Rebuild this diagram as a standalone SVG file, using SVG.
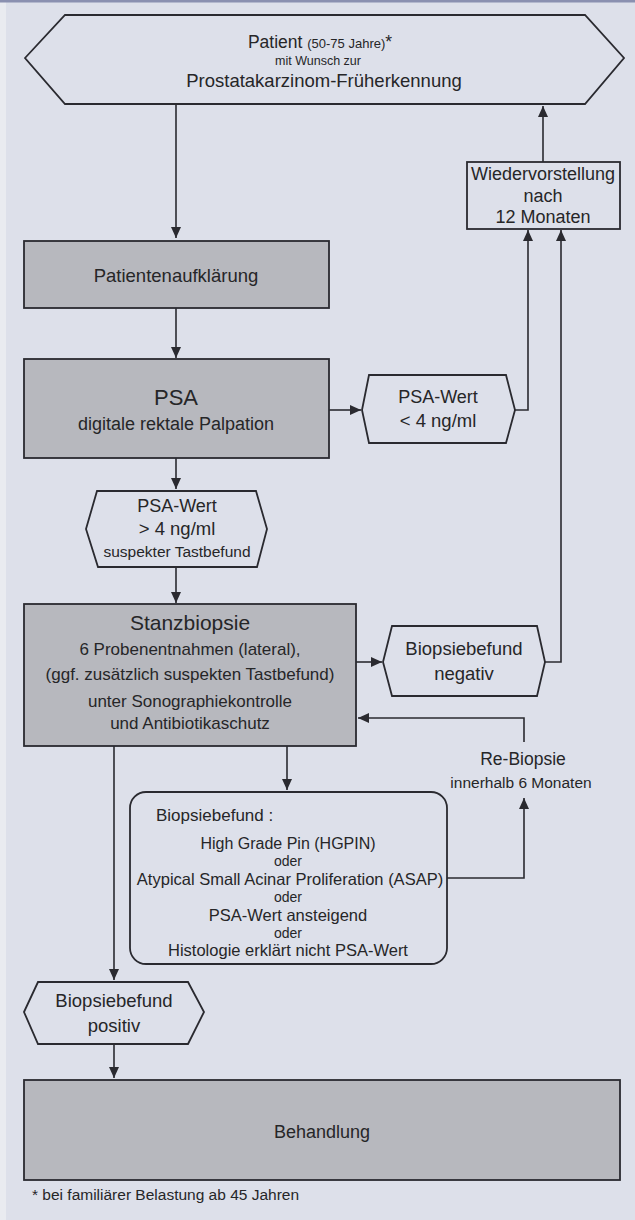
<svg xmlns="http://www.w3.org/2000/svg" width="635" height="1220" viewBox="0 0 635 1220">
<defs>
<style>
.t{font-family:"Liberation Sans",Arial,sans-serif;fill:#262628;text-anchor:middle}
.l{text-anchor:start}
.box{stroke:#2a2a30;stroke-width:1.8}
.g{fill:#b7b8be}
.w{fill:#dde0ea}
.c{fill:none;stroke:#2a2a30;stroke-width:1.6}
.a{marker-end:url(#ah)}
</style>
<marker id="ah" markerUnits="userSpaceOnUse" markerWidth="12" markerHeight="12" refX="11" refY="5" orient="auto">
<path d="M0,0 L11,5 L0,10 z" fill="#2a2a30"/>
</marker>
</defs>
<rect x="0" y="0" width="635" height="1220" fill="#dde0ea"/>
<rect x="0" y="0" width="6" height="1220" fill="#e9ebf0"/>
<rect x="0" y="0" width="635" height="2.5" fill="#8a90b0"/>

<g id="connectors">
<path class="c a" d="M176 104 V238"/>
<path class="c a" d="M176 308 V358"/>
<path class="c a" d="M176 458 V489"/>
<path class="c a" d="M176 567 V603"/>
<path class="c a" d="M329 410 H361"/>
<path class="c a" d="M515 410 H528 V230"/>
<path class="c a" d="M356 662 H382"/>
<path class="c a" d="M545 662 H561 V230"/>
<path class="c a" d="M543 162 V106"/>
<path class="c a" d="M287 746 V790"/>
<path class="c a" d="M447 878 H524 V798"/>
<path class="c a" d="M524 742 V718 H358"/>
<path class="c a" d="M114 746 V980"/>
<path class="c a" d="M114 1044 V1078"/>
</g>

<g id="patient">
<polygon class="box w" points="25,58 65,15 585,15 624,58 585,104 65,104"/>
<text class="t" x="320" y="48"><tspan font-size="17.5">Patient </tspan><tspan font-size="13">(50-75 Jahre)</tspan><tspan font-size="17.5">*</tspan></text>
<text class="t" x="318" y="65" font-size="12.5">mit Wunsch zur</text>
<text class="t" x="324" y="87" font-size="18.5">Prostatakarzinom-Früherkennung</text>
</g>

<g id="wiedervorstellung">
<rect class="box w" x="467" y="162" width="153" height="67"/>
<text class="t" x="543" y="180" font-size="18">Wiedervorstellung</text>
<text class="t" x="543" y="202" font-size="18">nach</text>
<text class="t" x="543" y="223" font-size="18">12 Monaten</text>
</g>

<g id="aufklaerung">
<rect class="box g" x="24" y="241" width="305" height="67"/>
<text class="t" x="176" y="282" font-size="18.5">Patientenaufklärung</text>
</g>

<g id="psa">
<rect class="box g" x="24" y="359" width="305" height="99"/>
<text class="t" x="176" y="405" font-size="22">PSA</text>
<text class="t" x="176" y="430" font-size="18">digitale rektale Palpation</text>
</g>

<g id="psa-low">
<polygon class="box w" points="362,410 369,375 506,375 515,410 506,443 369,443"/>
<text class="t" x="438" y="403" font-size="18">PSA-Wert</text>
<text class="t" x="438" y="427" font-size="18.5">&lt; 4 ng/ml</text>
</g>

<g id="psa-high">
<polygon class="box w" points="86,529 97,491 256,491 267,529 257,567 98,567"/>
<text class="t" x="177" y="512" font-size="18">PSA-Wert</text>
<text class="t" x="177" y="535" font-size="18.5">&gt; 4 ng/ml</text>
<text class="t" x="177" y="557" font-size="15.5">suspekter Tastbefund</text>
</g>

<g id="stanzbiopsie">
<rect class="box g" x="24" y="604" width="332" height="142"/>
<text class="t" x="190" y="630" font-size="21">Stanzbiopsie</text>
<text class="t" x="190" y="655" font-size="17">6 Probenentnahmen (lateral),</text>
<text class="t" x="190" y="680" font-size="17">(ggf. zusätzlich suspekten Tastbefund)</text>
<text class="t" x="190" y="707" font-size="17">unter Sonographiekontrolle</text>
<text class="t" x="190" y="729" font-size="17">und Antibiotikaschutz</text>
</g>

<g id="negativ">
<polygon class="box w" points="383,662 392,626 537,626 545,662 537,696 392,696"/>
<text class="t" x="464" y="655" font-size="18.5">Biopsiebefund</text>
<text class="t" x="464" y="680" font-size="18.5">negativ</text>
</g>

<g id="rebiopsie">
<text class="t" x="523" y="765" font-size="17.5">Re-Biopsie</text>
<text class="t" x="521" y="788" font-size="15.5">innerhalb 6 Monaten</text>
</g>

<g id="befund">
<rect class="box w" x="130" y="792" width="317" height="172" rx="16" ry="16"/>
<text class="t l" x="156" y="821" font-size="17">Biopsiebefund :</text>
<text class="t" x="288" y="849" font-size="16">High Grade Pin (HGPIN)</text>
<text class="t" x="288" y="866" font-size="14">oder</text>
<text class="t" x="290" y="885" font-size="16.5">Atypical Small Acinar Proliferation (ASAP)</text>
<text class="t" x="288" y="902" font-size="14">oder</text>
<text class="t" x="288" y="921" font-size="16.5">PSA-Wert ansteigend</text>
<text class="t" x="288" y="938" font-size="14">oder</text>
<text class="t" x="288" y="956" font-size="16.5">Histologie erklärt nicht PSA-Wert</text>
</g>

<g id="positiv">
<polygon class="box w" points="24,1012 38,982 188,982 204,1012 188,1044 38,1044"/>
<text class="t" x="114" y="1007" font-size="18.5">Biopsiebefund</text>
<text class="t" x="114" y="1032" font-size="18.5">positiv</text>
</g>

<g id="behandlung">
<rect class="box g" x="24" y="1080" width="596" height="100"/>
<text class="t" x="322" y="1138" font-size="18">Behandlung</text>
</g>

<text class="t l" x="32" y="1200" font-size="15.5">* bei familiärer Belastung ab 45 Jahren</text>
</svg>
